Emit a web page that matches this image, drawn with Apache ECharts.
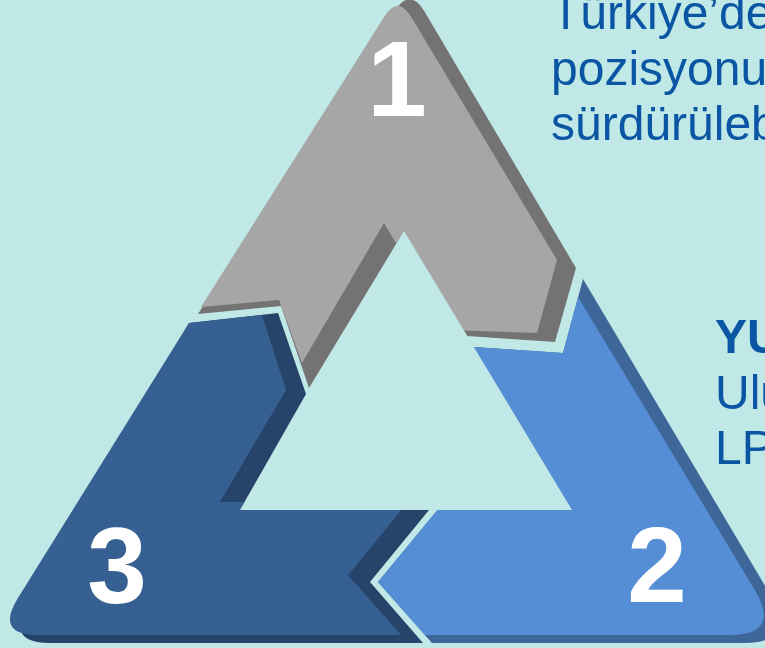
<!DOCTYPE html>
<html>
<head>
<meta charset="utf-8">
<title>Döngü</title>
<script src="https://cdn.jsdelivr.net/npm/echarts@6/dist/echarts.min.js"></script>
<style>
html,body{margin:0;padding:0;background:#bfe8e6;}
#main{width:765px;height:648px;}
</style>
</head>
<body>
<div id="main"></div>
<script>
// dış üçgen köşeleri (ön yüz / gölge), iç boşluk
var FA = [398, -5], FL = [-5, 635], FR = [782, 635];
var BA = [410, -13], BL = [5, 643], BR = [799, 643];
var IT = [404, 231], IL = [240, 510], IR = [572, 510];
var HT = [384, 223], HL = [220, 502], HR = [552, 502];

// 1 - gri parça
var grayBase = [BA, [576, 268], [555, 342], [467, 336], IT, [309, 388], [281, 306], [198, 314]];
var grayFace = [FA, [557, 260], [537, 333], [448, 330], HT, [302, 363], [279, 300], [201, 307]];
// 2 - açık mavi parça
var blueBase = [[474, 347], [563, 353], [583, 279], BR, [432, 643], [378, 582], [444, 502], [567, 502]];
var blueFace = [[458, 346], [563, 353], [578, 297], FR, [425, 635], [378, 582], [444, 502], HR];
// 3 - lacivert parça
var navyBase = [[278, 313], [306, 394], IL, [429, 510], [370, 582], [423, 643], BL, [189, 323]];
var navyFace = [[189, 323], [262, 315], [286, 390], HL, [408, 502], [348, 575], [401, 635], FL];
var hole = [IT, IL, IR];

var numberLabels = ['1', '2', '3'];
var numberPos = [[397, 83], [657, 569], [117, 570]];

var textTop = ['Türkiye’de lider LPG şirketi', 'pozisyonunu koruyarak', 'sürdürülebilir büyüme'];
var textRight = ['YURT İÇİ', 'Ulusal dağıtım ağı', 'LPG pazarında'];

var BG = '#bfe8e6';
var layers = [
  {pts: grayBase, fill: '#737373'},
  {pts: blueBase, fill: '#3e6699'},
  {pts: navyBase, fill: '#264469'},
  {pts: grayFace, fill: '#a6a6a6'},
  {pts: blueFace, fill: '#558ed5'},
  {pts: navyFace, fill: '#376092'},
  {pts: hole, fill: BG}
];
// yuvarlatılmış köşeler
var rounded = [[FA, 16], [FL, 24], [FR, 30], [BA, 18], [BL, 26], [BR, 32]];

function radiusOf(p){
  for (var i = 0; i < rounded.length; i++) {
    if (rounded[i][0] === p) return rounded[i][1];
  }
  return 0;
}
function unit(a, p){
  var dx = a[0]-p[0], dy = a[1]-p[1], l = Math.sqrt(dx*dx+dy*dy);
  return [dx/l, dy/l];
}
function roundCorners(pts, radii){
  var out = [], n = pts.length;
  for (var i = 0; i < n; i++) {
    var p = pts[i], r = radii[i];
    if (!r) { out.push(p); continue; }
    var u1 = unit(pts[(i-1+n)%n], p), u2 = unit(pts[(i+1)%n], p);
    var c = Math.max(-1, Math.min(1, u1[0]*u2[0]+u1[1]*u2[1]));
    var t = r / Math.tan(Math.acos(c)/2);
    var s = [p[0]+u1[0]*t, p[1]+u1[1]*t], e = [p[0]+u2[0]*t, p[1]+u2[1]*t];
    for (var k = 0; k <= 12; k++) {
      var q = k/12, w = 1-q;
      out.push([w*w*s[0]+2*w*q*p[0]+q*q*e[0], w*w*s[1]+2*w*q*p[1]+q*q*e[1]]);
    }
  }
  return out;
}

var chart = echarts.init(document.getElementById('main'));
var fontFam = '"Liberation Sans", Arial, sans-serif';

var graphics = [];
textTop.forEach(function(t, i){
  graphics.push({type: 'text', x: 551, y: 16 + i*55.5, silent: true,
    style: {text: t, font: '48px ' + fontFam, fill: '#0b56a4', verticalAlign: 'middle'}});
});
textRight.forEach(function(t, i){
  graphics.push({type: 'text', x: 715, y: 340 + i*55.5, silent: true,
    style: {text: t, font: (i === 0 ? 'bold ' : '') + '48px ' + fontFam, fill: '#0b56a4', verticalAlign: 'middle'}});
});

chart.setOption({
  animation: false,
  backgroundColor: BG,
  grid: {left: 0, right: 0, top: 0, bottom: 0},
  xAxis: {type: 'value', min: 0, max: 765, show: false},
  yAxis: {type: 'value', min: 0, max: 648, inverse: true, show: false},
  graphic: graphics,
  series: [{
    type: 'custom',
    silent: true,
    data: layers.map(function(l, i){ return [i, 0]; }),
    renderItem: function(params, api){
      var l = layers[params.dataIndex];
      var pts = l.pts.map(function(p){ return api.coord(p); });
      var radii = l.pts.map(radiusOf);
      return {type: 'polygon', shape: {points: roundCorners(pts, radii)}, style: {fill: l.fill}};
    }
  }, {
    type: 'custom',
    silent: true,
    data: numberPos,
    renderItem: function(params, api){
      var p = api.coord([api.value(0), api.value(1)]);
      return {type: 'text', x: p[0], y: p[1] + 3,
        style: {text: numberLabels[params.dataIndex], font: 'bold 107px ' + fontFam,
          fill: '#ffffff', align: 'center', verticalAlign: 'middle'}};
    }
  }]
});
</script>
</body>
</html>
